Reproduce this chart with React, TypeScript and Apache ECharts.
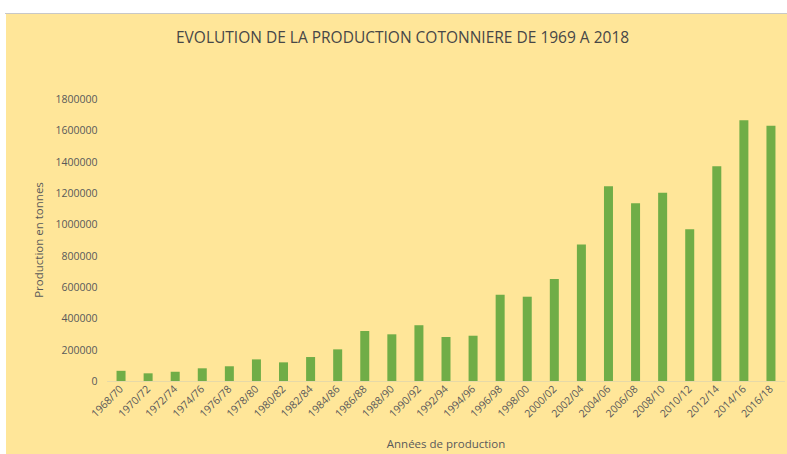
import React, { useEffect, useRef } from "react";
import * as echarts from "echarts";

const categories: string[] = [
  "1968/70", "1970/72", "1972/74", "1974/76", "1976/78", "1978/80", "1980/82",
  "1982/84", "1984/86", "1986/88", "1988/90", "1990/92", "1992/94", "1994/96",
  "1996/98", "1998/00", "2000/02", "2002/04", "2004/06", "2006/08", "2008/10",
  "2010/12", "2012/14", "2014/16", "2016/18",
];

const production: number[] = [
  65000, 49000, 59000, 81000, 94000, 138000, 119000, 153000, 202000, 319000,
  298000, 356000, 281000, 289000, 551000, 538000, 651000, 872000, 1243000,
  1134000, 1202000, 968000, 1371000, 1664000, 1630000,
];

const titleText = "EVOLUTION DE LA PRODUCTION COTONNIERE DE 1969 A 2018";
const yAxisTitle = "Production en tonnes";
const xAxisTitle = "Années de production";

const FONT = "Open Sans";

export default function App() {
  const ref = useRef<HTMLDivElement>(null);

  useEffect(() => {
    if (!ref.current) return;
    const chart = echarts.init(ref.current, undefined, { renderer: "svg" });
    chart.setOption({
      animation: false,
      backgroundColor: "#ffffff",
      textStyle: { fontFamily: FONT },
      graphic: [
        {
          type: "rect",
          z: -10,
          silent: true,
          shape: { x: 6, y: 14, width: 781, height: 440 },
          style: { fill: "#FFE699" },
        },
        {
          type: "line",
          z: -9,
          silent: true,
          shape: { x1: 5, y1: 13.5, x2: 787, y2: 13.5 },
          style: { stroke: "#C8C8C8", lineWidth: 1 },
        },
      ],
      title: {
        text: titleText,
        left: 176,
        top: 29,
        padding: 0,
        textStyle: {
          fontFamily: FONT,
          fontSize: 15.5,
          fontWeight: "normal",
          color: "#474747",
        },
      },
      grid: {
        left: 107.5,
        right: 2.5,
        top: 99,
        bottom: 73,
        containLabel: false,
      },
      xAxis: {
        type: "category",
        data: categories,
        name: xAxisTitle,
        nameLocation: "middle",
        nameGap: 56,
        nameTextStyle: { fontFamily: FONT, fontSize: 11.5, color: "#595959" },
        axisLine: { show: true, lineStyle: { color: "#E6D9A8", width: 1 } },
        axisTick: { show: false },
        axisLabel: {
          interval: 0,
          rotate: 45,
          margin: 6,
          fontFamily: FONT,
          fontSize: 10.5,
          color: "#595959",
        },
      },
      yAxis: {
        type: "value",
        min: 0,
        max: 1800000,
        interval: 200000,
        name: yAxisTitle,
        nameLocation: "middle",
        nameGap: 49,
        nameTextStyle: { fontFamily: FONT, fontSize: 11.5, color: "#595959" },
        axisLine: { show: false },
        axisTick: { show: false },
        splitLine: { show: false },
        axisLabel: {
          margin: 10,
          fontFamily: FONT,
          fontSize: 10.5,
          color: "#595959",
          formatter: (v: number) => String(v),
        },
      },
      series: [
        {
          type: "bar",
          data: production,
          barWidth: 9,
          itemStyle: { color: "#70AD47" },
        },
      ],
    });
    return () => chart.dispose();
  }, []);

  return (
    <div
      ref={ref}
      style={{ position: "fixed", left: 0, top: 0, width: 787, height: 454 }}
    />
  );
}
